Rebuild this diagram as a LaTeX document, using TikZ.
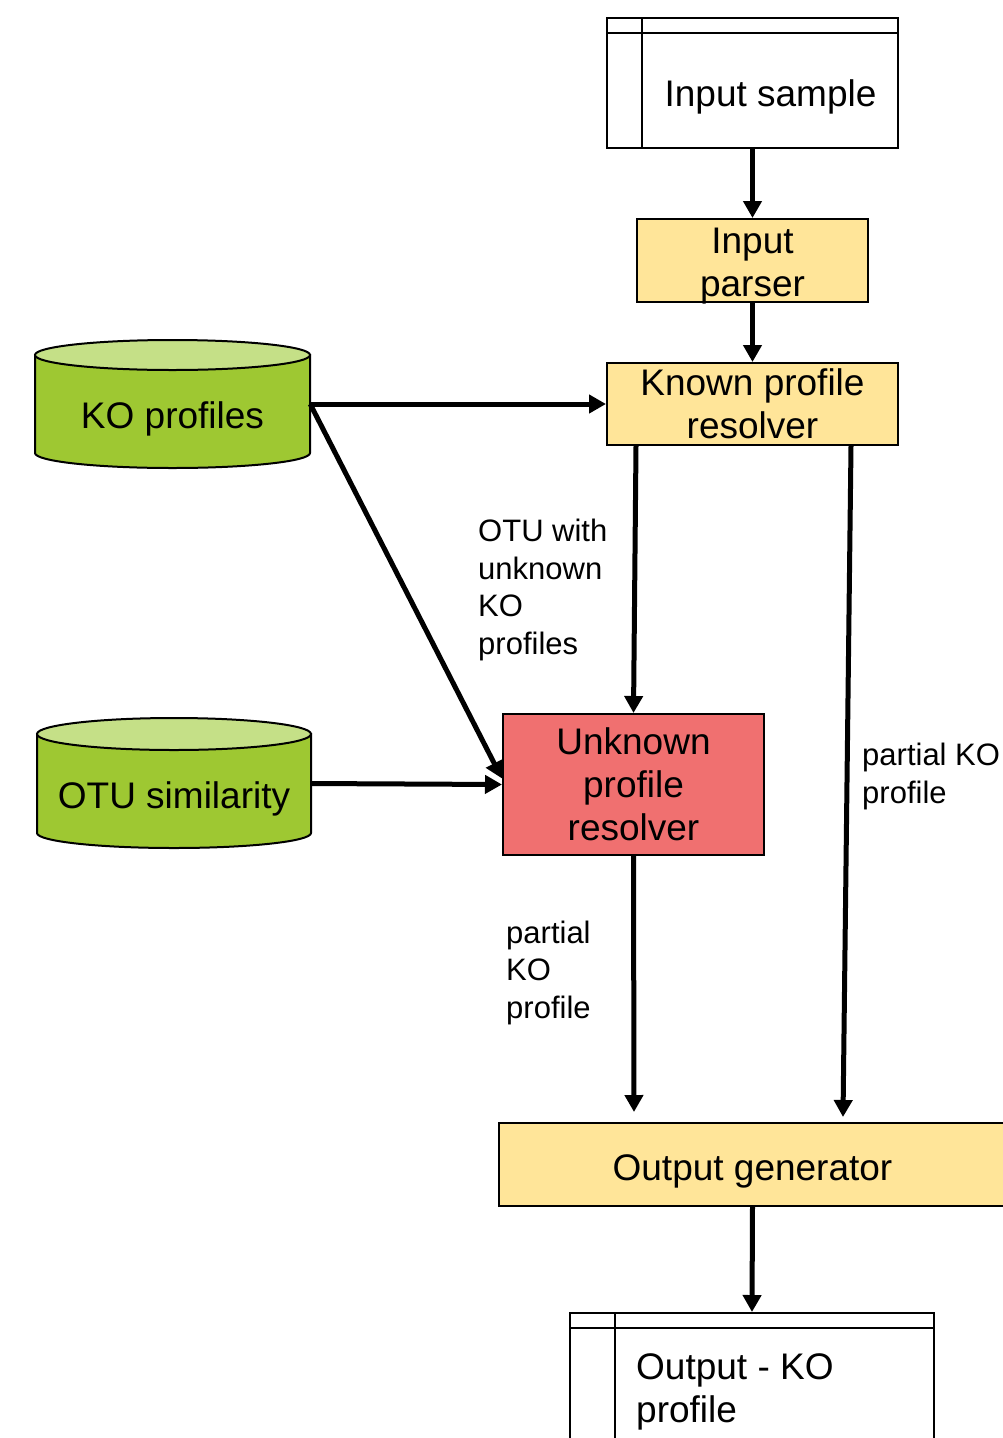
\documentclass[tikz,border=0pt]{standalone}
\usepackage{fontspec}
\setmainfont{Liberation Sans}
\usetikzlibrary{arrows.meta,calc}
\definecolor{boxyellow}{RGB}{255,229,153}
\definecolor{boxred}{RGB}{240,112,112}
\definecolor{cylbodycol}{RGB}{158,200,50}
\definecolor{cyltopcol}{RGB}{197,224,135}
\tikzset{
  big/.style={font=\fontsize{37}{43}\selectfont},
  small/.style={font=\fontsize{31}{37.5}\selectfont, align=left, inner sep=0pt, anchor=west},
  procbox/.style={draw, line width=2pt, fill=boxyellow, big, align=center, inner sep=0pt},
  arr/.style={line width=5pt, -{Triangle[width=18pt,length=17pt]}},
  docbox/.style={draw, line width=2pt, fill=white, inner sep=0pt},
  docline/.style={line width=2pt},
  cylnode/.style={inner sep=0pt, minimum width=#1, minimum height=99pt},
  cylline/.style={draw=black, line width=2pt},
}
\begin{document}
\begin{tikzpicture}[x=1pt,y=-1pt]
\useasboundingbox (0,0) rectangle (1002,1438);

% Input sample (document)
\node[docbox, minimum width=291pt, minimum height=130pt] (ins) at (752.5,83) {};
\draw[docline] ([xshift=36pt]ins.north west) -- ([xshift=36pt]ins.south west);
\draw[docline] ([yshift=-16pt]ins.north west) -- ([yshift=-16pt]ins.north east);
\node[big] (instext) at (770.5,97) {Input sample};

% Input parser
\node[procbox, minimum width=231pt, minimum height=83pt] (ip) at (752.5,260.5) {};
\node[big, align=center] (iptext) at (752.5,266.5) {Input\\parser};

% Known profile resolver
\node[procbox, minimum width=291pt, minimum height=82pt] (kn) at (752.5,404) {Known profile\\resolver};

% Unknown profile resolver
\node[procbox, fill=boxred, minimum width=261pt, minimum height=141pt] (un) at (633.5,784.5) {Unknown\\profile\\resolver};

% Output generator
\node[procbox, minimum width=507pt, minimum height=83pt] (og) at (752.5,1164.5) {};
\node[big] (ogtext) at (752.5,1171) {Output generator};

% Output document
\node[docbox, minimum width=364pt, minimum height=157pt] (out) at (752,1391.5) {};
\draw[docline] ([xshift=46pt]out.north west) -- ([xshift=46pt]out.south west);
\draw[docline] ([yshift=-16pt]out.north west) -- ([yshift=-16pt]out.north east);
\node[big, align=left, inner sep=0pt, anchor=west] (outtext) at (636,1392) {Output - KO\\profile};

% KO profiles cylinder
\path[fill=cylbodycol, cylline] (35,355) -- (35,453) arc[start angle=180, end angle=360, x radius=137.5pt, y radius=15pt] -- (310,355) -- cycle;
\path[fill=cyltopcol, cylline] (172.5,355) ellipse [x radius=137.5pt, y radius=15pt];
\node[cylnode=275pt] (ko) at (172.5,404) {};
\node[big] (kotext) at (172.5,419) {KO profiles};

% OTU similarity cylinder
\path[fill=cylbodycol, cylline] (37,734) -- (37,833) arc[start angle=180, end angle=360, x radius=137pt, y radius=15pt] -- (311,734) -- cycle;
\path[fill=cyltopcol, cylline] (174,734) ellipse [x radius=137pt, y radius=16pt];
\node[cylnode=274pt] (os) at (174,783.5) {};
\node[big] (ostext) at (174,799) {OTU similarity};

% Labels
\node[small] (l1) at (478,590) {OTU with\\unknown\\KO\\profiles};
\node[small] (l2) at (862,776.5) {partial KO\\profile};
\node[small] (l3) at (506,972.5) {partial\\KO\\profile};

% Connectors
\draw[arr] (ins.south) -- (ip.north);
\draw[arr] (ip.south) -- (kn.north);
\draw[arr] (ko.east) -- (kn.west);
\draw[arr] (ko.east) -- ([yshift=6pt]un.west);
\draw[arr] (os.east) -- (un.west);
\draw[arr] ([xshift=-116.5pt]kn.south) -- (un.north);
\draw[arr] ([xshift=98.5pt]kn.south) -- ([xshift=90.5pt,yshift=5pt]og.north);
\draw[arr] (un.south) -- ([xshift=-118.5pt,yshift=10pt]og.north);
\draw[arr] (og.south) -- (out.north);
\end{tikzpicture}
\end{document}
